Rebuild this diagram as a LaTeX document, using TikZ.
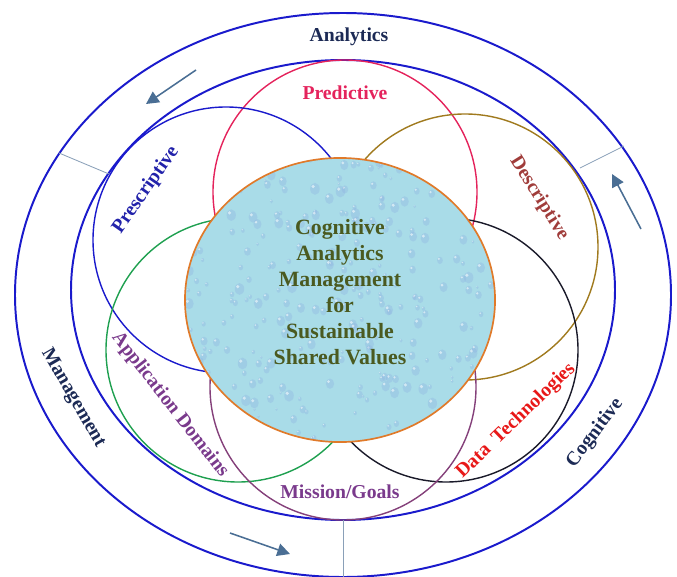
\documentclass[tikz,border=0pt]{standalone}
\usepackage{fontspec}
\setmainfont{Liberation Serif}
\usetikzlibrary{arrows.meta,shapes.geometric}

\definecolor{ringblue}{HTML}{1A1ACC}
\definecolor{navytext}{HTML}{1C2A55}
\definecolor{predcol}{HTML}{E4235C}
\definecolor{prescol}{HTML}{2222AA}
\definecolor{descol}{HTML}{A03C3A}
\definecolor{descring}{HTML}{A07A1E}
\definecolor{appcol}{HTML}{7A3A8C}
\definecolor{appring}{HTML}{1FA050}
\definecolor{datacol}{HTML}{E81818}
\definecolor{dataring}{HTML}{1A1A2A}
\definecolor{missring}{HTML}{84407A}
\definecolor{corefill}{HTML}{A9DCE8}
\definecolor{coreline}{HTML}{E07A2A}
\definecolor{coretext}{HTML}{4A5A20}
\definecolor{arrowcol}{HTML}{4A6E94}
\definecolor{sepcol}{HTML}{8AA0B8}

\tikzset{
  ring/.style={draw=ringblue, line width=1.4pt},
  petal/.style={line width=1pt},
  label/.style={font=\bfseries\fontsize{14}{16}\selectfont, inner sep=0pt},
  flow/.style={draw=arrowcol, line width=1.1pt, -{Triangle[width=9pt,length=9pt]}},
  sep/.style={draw=sepcol, line width=0.6pt},
  core/.style={ellipse, draw=coreline, line width=1.2pt, minimum width=7.75cm,
    minimum height=7.1cm, inner sep=0pt},
  coretxt/.style={align=center, text=coretext, inner sep=0pt,
    font=\bfseries\fontsize{15.5}{18.5}\selectfont}
}

\begin{document}
\begin{tikzpicture}[x=0.025cm, y=-0.025cm]
  \useasboundingbox (0,0) rectangle (677,577);

  % outer rings
  \draw[ring] (343,295) ellipse (328 and 282);
  \draw[ring] (343,290) ellipse (272 and 230);

  % petals
  \draw[petal, predcol] (345,192) circle (132);
  \draw[petal, ringblue] (226,240) circle (133);
  \draw[petal, descring] (465,247) circle (133);
  \draw[petal, appring] (238,350) circle (132);
  \draw[petal, dataring] (446,350) circle (132);
  \draw[petal, missring] (343,387) circle (133);

  % water drops
  \begin{scope}
    \clip (340,300) ellipse (155 and 142);
    \fill[corefill] (180,150) rectangle (500,450);
    \pgfmathsetseed{11}
    \foreach \k in {1,...,320} {
      \pgfmathsetmacro{\px}{185+310*rnd}
      \pgfmathsetmacro{\py}{158+284*rnd}
      \pgfmathsetmacro{\rr}{1.5+4.5*rnd}
      \fill[cyan!55!blue!45, opacity=0.35] (\px,\py) ellipse ({0.8*\rr} and \rr);
      \fill[white, opacity=0.55] (\px-0.3*\rr,\py-0.4*\rr) circle ({0.3*\rr});
    }
  \end{scope}
  \node[core] (cam) at (340,300) {};
  \node[coretxt] (camtext) at (340,292) {Cognitive\\Analytics\\Management\\for\\Sustainable\\Shared Values};

  % separators between the rings
  \coordinate (sl1) at (59,153);
  \coordinate (sl2) at (109,174);
  \coordinate (sr1) at (624,146);
  \coordinate (sr2) at (580,168);
  \coordinate (sb1) at (343,520);
  \coordinate (sb2) at (343,577);
  \draw[sep] (sl1) -- (sl2);
  \draw[sep] (sr1) -- (sr2);
  \draw[sep] (sb1) -- (sb2);

  % flow arrows
  \coordinate (at1) at (196,70);
  \coordinate (at2) at (146,104);
  \coordinate (ar1) at (641,229);
  \coordinate (ar2) at (612,174);
  \coordinate (ab1) at (230,533);
  \coordinate (ab2) at (290,554);
  \draw[flow] (at1) -- (at2);
  \draw[flow] (ar1) -- (ar2);
  \draw[flow] (ab1) -- (ab2);

  % ring labels
  \node[label, navytext] (analytics) at (349,37) {Analytics};
  \node[label, navytext, rotate=-60] (management) at (73,398) {Management};
  \node[label, navytext, rotate=53] (cognitive) at (595,433) {Cognitive};

  % petal labels
  \node[label, predcol] (predictive) at (345,93) {Predictive};
  \node[label, prescol, rotate=55] (prescriptive) at (146,190) {Prescriptive};
  \node[label, descol, rotate=-58] (descriptive) at (539,198) {Descriptive};
  \node[label, appcol, rotate=-52] (appdomains) at (170,405) {Application Domains};
  \node[label, datacol, rotate=44] (datatech) at (516,421) {Data\hspace{3pt} Technologies};
  \node[label, appcol] (mission) at (340,492) {Mission/Goals};
\end{tikzpicture}
\end{document}
